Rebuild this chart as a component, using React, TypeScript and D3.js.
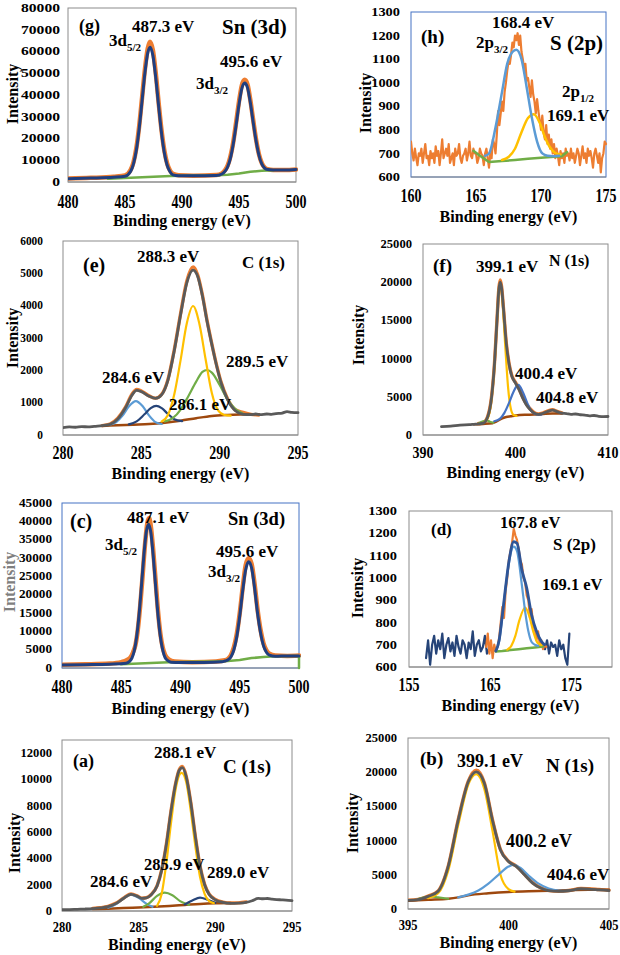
import React from 'react';
import * as d3 from 'd3';

type Pt = [number, number];
const FONT = '"Liberation Serif", "Times New Roman", serif';
const COL = {
  orange: '#ED7D31', gray: '#5A5A5A', yellow: '#FFC000', lblue: '#5B9BD5',
  navy: '#264478', green: '#70AD47', brown: '#9E480E', fit: '#203F80',
  frame: '#8C8C8C', frameBlue: '#4472C4',
};

const seq = (start: number, step: number, vals: number[]): Pt[] =>
  vals.map((v, i) => [start + i * step, v] as Pt);

// ---------- (g) Sn 3d ----------
const gXTicks = [480, 485, 490, 495, 500];
const gYTicks = [0, 10000, 20000, 30000, 40000, 50000, 60000, 70000, 80000];
const gRaw: Pt[] = [[480,1600],[482,1900],[484,2400],[485,3000],[485.5,5600],[485.75,9200],[486,15800],[486.25,26000],[486.5,39000],[486.75,52000],[487,61500],[487.2,64500],[487.45,60500],[487.7,50000],[487.95,36500],[488.2,24000],[488.45,14500],[488.7,8500],[488.95,5300],[489.2,3800],[489.7,3100],[491,2900],[493,3200],[493.5,4000],[493.8,5600],[494,7500],[494.25,11800],[494.5,18500],[494.75,27500],[495,37000],[495.25,44500],[495.5,47000],[495.75,44800],[496,37500],[496.25,28300],[496.5,19500],[496.75,12800],[497,8700],[497.25,6700],[497.5,5900],[498,5500],[499,5500],[500,5800]];
const gFit: Pt[] = [[480,1500],[482,1800],[484,2200],[485,2600],[485.5,4900],[485.75,8400],[486,14800],[486.25,24900],[486.5,37500],[486.75,50300],[487,59500],[487.2,62000],[487.45,58100],[487.7,47900],[487.95,34900],[488.2,22700],[488.45,13500],[488.7,7700],[488.95,4700],[489.2,3300],[489.7,2900],[491,2900],[493,3000],[493.5,3700],[493.8,5100],[494,6900],[494.25,11000],[494.5,17600],[494.75,26300],[495,35600],[495.25,43000],[495.5,45500],[495.75,43300],[496,36300],[496.25,27300],[496.5,18800],[496.75,12300],[497,8300],[497.25,6400],[497.5,5700],[498,5500],[499,5500],[500,5800]];
const gBg: Pt[] = [[483.5,1500],[485,1800],[487,2300],[489,2800],[491,3000],[493,3100],[494,3300],[495,3900],[496,4700],[497,5200],[498,5400]];

// ---------- (h) S 2p ----------
const hXTicks = [160, 165, 170, 175];
const hYTicks = [600, 700, 800, 900, 1000, 1100, 1200, 1300];
const hRawVals = [
  750,700,670,720,680,650,700,690,720,660,700,740,680,690,650,710,680,700,660,730,
  690,710,650,700,760,680,700,720,690,740,660,680,700,650,720,690,700,740,680,660,
  690,700,720,670,700,750,690,680,720,700,
  700,660,680,720,700,690,650,700,720,680,640,700,680,760,740,700,
  780,880,820,870,920,880,960,1000,1050,1090,1080,1120,1170,1150,1200,1180,1210,1160,1200,1130,
  1100,1060,1080,1010,1020,980,940,1010,950,920,870,930,880,840,800,860,790,760,820,740,
  780,720,760,700,740,680,720,690,650,710,680,
  700,660,720,690,700,670,720,680,700,660,690,720,700,650,690,730,680,700,660,720,
  690,710,680,640,700,720,690,660,700,620,680,700,750,740,
];
const hBlue: Pt[] = [[165.7,690],[166.0,700],[166.5,810],[167.0,960],[167.4,1080],[167.8,1130],[168.1,1140],[168.5,1100],[168.9,980],[169.3,850],[169.7,750],[170.1,700],[170.5,690],[171,688],[171.4,690]];
const hYellow: Pt[] = [[167,672],[167.5,685],[168,720],[168.5,790],[169,850],[169.45,866],[169.9,830],[170.3,770],[170.7,725],[171.1,702],[171.5,695]];
const hGreen: Pt[] = [[164.8,711],[165.3,690],[166,664],[167,668],[168,672],[169,677],[170,682],[171,686],[171.6,688],[172,706]];

// ---------- (e) C 1s ----------
const eXTicks = [280, 285, 290, 295];
const eYTicks = [0, 1000, 2000, 3000, 4000, 5000, 6000];
const eEnv: Pt[] = [[280,230],[280.4,250],[280.8,240],[281.2,260],[281.6,250],[282,270],[282.5,290],[283,330],[283.5,500],[284,850],[284.4,1230],[284.7,1380],[285,1340],[285.5,1200],[285.9,1130],[286.3,1250],[286.7,1700],[287.1,2600],[287.5,3700],[287.9,4700],[288.3,5100],[288.6,4900],[288.9,4300],[289.2,3500],[289.5,2800],[289.8,2150],[290.1,1600],[290.5,1100],[291,750],[291.5,640],[292,630],[292.3,650],[292.6,630],[293,650],[293.3,640],[293.6,660],[294,680],[294.3,720],[294.6,700],[295,690]];
const eRaw: Pt[] = [[282.5,290],[283,340],[283.5,520],[284,870],[284.4,1260],[284.7,1410],[285,1360],[285.5,1210],[285.9,1140],[286.3,1260],[286.7,1720],[287.1,2630],[287.5,3740],[287.9,4760],[288.3,5200],[288.6,4950],[288.9,4330],[289.2,3530],[289.5,2820],[289.8,2170],[290.1,1620],[290.5,1120],[291,780],[291.5,700],[292,640],[292.5,620]];
const eC1: Pt[] = [[283,320],[283.4,400],[283.8,600],[284.2,880],[284.65,1050],[285.1,880],[285.5,600],[285.9,400],[286.3,340]];
const eC2: Pt[] = [[284.2,330],[284.7,420],[285.2,640],[285.6,830],[285.95,900],[286.3,830],[286.7,650],[287.1,490],[287.6,430]];
const eC3: Pt[] = [[286.3,420],[286.7,620],[287.1,1250],[287.5,2300],[287.9,3450],[288.3,3990],[288.7,3450],[289.1,2350],[289.5,1300],[289.9,760],[290.3,620],[290.7,600]];
const eC4: Pt[] = [[286.5,420],[287,520],[287.5,780],[288,1200],[288.5,1650],[288.9,1950],[289.2,2010],[289.5,1930],[290,1550],[290.5,1100],[291,800],[291.5,660]];
const eBg: Pt[] = [[282.5,280],[283.5,300],[284.5,320],[285.5,340],[286.5,380],[287.5,440],[288.5,520],[289.5,590],[290.5,620],[291.5,635],[292.5,645]];

// ---------- (f) N 1s ----------
const fXTicks = [390, 400, 410];
const fYTicks = [0, 5000, 10000, 15000, 20000, 25000];
const fEnv: Pt[] = [[392,1100],[393,1150],[394,1300],[395,1350],[395.5,1400],[396,1450],[396.5,1550],[397,2400],[397.4,4800],[397.7,8800],[398,15000],[398.2,19000],[398.35,20000],[398.5,19200],[398.7,16500],[399,12000],[399.3,9300],[399.6,7700],[400,6800],[400.4,5900],[400.8,4800],[401.2,3900],[401.6,3300],[402,2900],[402.5,2700],[403,2850],[403.5,3100],[404,3250],[404.5,3050],[405,2850],[405.5,2800],[406,2700],[406.5,2750],[407,2650],[407.5,2600],[408,2500],[408.5,2550],[409,2450],[409.5,2400],[410,2420]];
const fRaw: Pt[] = [[396,1500],[396.5,1600],[397,2450],[397.4,4900],[397.7,8900],[398,15100],[398.2,19200],[398.35,20300],[398.5,19400],[398.7,16600],[399,12100],[399.3,9400],[399.6,7800],[400,6900],[400.4,6000],[400.8,4900],[401.2,4000],[401.6,3400],[402,2950],[402.5,2750],[403,2900],[403.5,3150],[404,3300],[404.5,3100],[405,2900]];
const fYellow: Pt[] = [[396.5,1600],[397,2200],[397.4,4600],[397.7,8600],[398,15000],[398.3,19800],[398.6,17500],[398.9,11500],[399.2,6200],[399.5,3400],[399.8,2600],[400.1,2500]];
const fBlue: Pt[] = [[397.7,1800],[398.3,2100],[398.8,2900],[399.3,4200],[399.8,5700],[400.3,6550],[400.8,5600],[401.3,4100],[401.8,3000],[402.3,2700],[402.8,2650]];
const fGreen: Pt[] = [[396,1500],[396.5,1800],[396.9,1900],[397.3,1700],[397.6,1600]];
const fBg: Pt[] = [[395.5,1400],[396.5,1450],[397.5,1550],[398,1800],[398.5,2150],[399,2350],[399.5,2450],[400,2550],[401,2650],[402,2680],[403,2750],[404,2800],[405,2800]];

// ---------- (c) Sn 3d ----------
const cXTicks = [480, 485, 490, 495, 500];
const cYTicks = [0, 5000, 10000, 15000, 20000, 25000, 30000, 35000, 40000, 45000];
const cRaw: Pt[] = [[480,900],[482,1000],[484,1200],[485,1600],[485.5,2200],[485.8,3000],[486,4300],[486.2,6300],[486.4,10500],[486.6,17000],[486.8,25000],[487,33500],[487.2,39500],[487.35,40900],[487.5,38600],[487.7,32000],[487.9,23800],[488.1,15600],[488.3,9400],[488.5,5600],[488.7,3600],[489,2400],[489.5,1800],[491,1600],[493,1800],[493.75,2100],[494,2500],[494.25,3500],[494.5,5600],[494.75,9300],[495,15000],[495.25,22000],[495.5,28000],[495.75,29900],[496,28400],[496.25,23000],[496.5,16000],[496.75,10500],[497,6800],[497.25,4800],[497.5,3900],[498,3400],[499,3300],[500,3400]];
const cFit: Pt[] = [[480,800],[482,900],[484,1050],[485.4,1300],[485.7,1800],[485.9,2700],[486.1,4700],[486.3,8500],[486.5,14400],[486.7,22200],[486.9,30400],[487.1,36800],[487.3,39200],[487.5,36900],[487.7,30500],[487.9,22300],[488.1,14500],[488.3,8600],[488.5,4900],[488.7,2800],[488.9,2100],[489.2,1600],[490,1500],[492,1500],[493.5,1700],[493.75,1900],[494,2200],[494.25,3000],[494.5,4900],[494.75,8500],[495,14200],[495.25,21100],[495.5,26800],[495.75,29000],[496,27300],[496.25,21900],[496.5,15000],[496.75,9700],[497,6100],[497.25,4300],[497.5,3500],[498,3200],[499,3300],[500,3300]];
const cBg: Pt[] = [[485,1000],[487,1300],[489,1600],[491,1700],[493,1800],[494,1900],[495,2200],[496,2700],[497,3000],[498,3200],[499.5,3300],[500,3300],[500,0]];

// ---------- (d) S 2p ----------
const dXTicks = [155, 165, 175];
const dYTicks = [600, 700, 800, 900, 1000, 1100, 1200, 1300];
const dNavyLeftVals = [640,720,610,700,740,660,720,680,750,640,700,730,670,710,650,740,690,660,720,700,640,710,680,760,650,700,720,670,690,740,660,680];
const dNavyRightVals = [700,680,720,660,710,690,700,650,720,680,700,640,610,750];
const dRawVals = [690,750,660,720,640,700,670,690,730,800,870,820,940,1000,1080,1120,1160,1220,1190,1170,1130,1080,1060,1000,980,920,900,820,860,780,770,720,760,700,720,680,700,690];
const dEnv: Pt[] = [[165.7,672],[166.1,720],[166.5,834],[166.9,960],[167.3,1072],[167.9,1162],[168.3,1155],[168.9,1036],[169.5,954],[170.1,834],[170.7,760],[171.3,715],[171.7,700]];
const dBlue: Pt[] = [[165.7,672],[166.1,715],[166.5,830],[166.9,955],[167.3,1065],[167.9,1140],[168.3,1120],[168.9,968],[169.3,850],[169.7,760],[170.1,712],[170.5,700],[170.9,695]];
const dYellow: Pt[] = [[167.1,678],[167.6,695],[168.1,740],[168.6,810],[169.3,867],[169.8,830],[170.3,760],[170.8,710],[171.3,698]];
const dGreen: Pt[] = [[165.7,670],[166.5,672],[167.5,676],[168.5,680],[169.5,684],[170.5,688],[171.5,692]];

// ---------- (a) C 1s ----------
const aXTicks = [280, 285, 290, 295];
const aYTicks = [0, 2000, 4000, 6000, 8000, 10000, 12000];
const aEnv: Pt[] = [[280,100],[280.5,110],[281,130],[281.5,150],[282,180],[282.5,230],[283,330],[283.5,560],[284,950],[284.5,1270],[284.9,1130],[285.2,960],[285.5,1000],[285.8,1220],[286.2,1900],[286.5,3100],[286.8,5000],[287.1,7500],[287.4,9600],[287.65,10700],[287.85,10900],[288.1,10200],[288.4,8200],[288.7,5600],[289,3400],[289.3,2000],[289.6,1250],[290,850],[290.5,650],[291,580],[291.5,600],[292,660],[292.4,780],[292.8,960],[293.1,930],[293.4,950],[293.7,900],[294,870],[294.3,850],[294.6,830],[295,790]];
const aRaw: Pt[] = [[282,200],[282.5,250],[283,350],[283.5,580],[284,970],[284.5,1290],[284.9,1150],[285.2,980],[285.5,1020],[285.8,1240],[286.2,1920],[286.5,3130],[286.8,5030],[287.1,7530],[287.4,9650],[287.65,10760],[287.85,10980],[288.1,10260],[288.4,8250],[288.7,5650],[289,3430],[289.3,2030],[289.6,1280],[290,880],[290.5,680],[291,610],[291.5,620],[292,680]];
const aC1: Pt[] = [[283,250],[283.5,500],[284,950],[284.5,1250],[285,1000],[285.5,560],[285.9,320]];
const aC2: Pt[] = [[285.3,320],[285.7,600],[286.2,1150],[286.7,1400],[287.2,1200],[287.7,750],[288.3,460]];
const aC3: Pt[] = [[286.2,400],[286.5,1300],[286.8,3600],[287.1,6600],[287.4,9200],[287.8,10500],[288.1,9800],[288.4,7600],[288.7,4900],[289,2600],[289.3,1300],[289.6,750],[289.9,600]];
const aC4: Pt[] = [[288,500],[288.5,800],[289,1020],[289.5,850],[290,620]];
const aBg: Pt[] = [[282,150],[283,180],[284,220],[285,270],[286,320],[287,380],[288,460],[289,540],[290,590],[291,610]];

// ---------- (b) N 1s ----------
const bXTicks = [395, 400, 405];
const bYTicks = [0, 5000, 10000, 15000, 20000, 25000];
const bEnv: Pt[] = [[395,1260],[395.5,1360],[396,1840],[396.5,2600],[397,6200],[397.5,13000],[398,18600],[398.4,20050],[398.8,18350],[399.2,13000],[399.6,8640],[400,6940],[400.4,6200],[400.8,5000],[401.2,3790],[401.6,3060],[402,2670],[402.5,2570],[403,2670],[403.6,2960],[404,2900],[404.5,2800],[405,2700]];
const bRaw: Pt[] = [[395,1300],[395.5,1400],[396,1880],[396.5,2640],[397,6250],[397.5,13100],[398,18700],[398.4,20300],[398.8,18450],[399.2,13100],[399.6,8700],[400,7000],[400.4,6250],[400.8,5050],[401.2,3850],[401.6,3100],[402,2700],[402.5,2600],[403,2700],[403.6,3000],[404,2950],[404.5,2850],[405,2750]];
const bYellow: Pt[] = [[396,1600],[396.5,2300],[397,5600],[397.5,12300],[398,18200],[398.4,19700],[398.8,17500],[399.2,11500],[399.6,5000],[400,2900],[400.3,2550]];
const bBlue: Pt[] = [[397.5,1700],[398,2100],[398.5,2700],[399,3700],[399.5,5000],[400,6200],[400.25,6460],[400.6,6000],[401,4900],[401.5,3700],[402,3000],[402.5,2700],[403,2650]];
const bGreen: Pt[] = [[395.5,1450],[395.8,1700],[396.1,1840],[396.5,1700],[397,1500]];
const bBg: Pt[] = [[395,1200],[396,1350],[397,1500],[397.5,1700],[398,2000],[399,2300],[400,2500],[401,2600],[402,2650],[403,2750],[404,2800],[405,2800]];

type Series = { pts: Pt[]; color: string; w: number; smooth?: boolean };
type Ann = { t: string; sub?: string; x: number; y: number; s: number };
type PanelCfg = {
  id: string; x0: number; x1: number; y0: number; y1: number;
  xDom: [number, number]; yDom: [number, number];
  xTicks: number[]; yTicks: number[];
  yTickRight: number; ySx: number; yFs: number;
  xTickY: number; xFs: number; xSy: number;
  xTitleY: number; xTitleFs: number; yTitleX: number; yTitleY: number; yTitleColor?: string;
  frame: string; series: Series[]; ann: Ann[];
};

const panels: PanelCfg[] = [
  {
    id: 'g', x0: 68, x1: 296, y0: 8, y1: 182, xDom: [480, 500], yDom: [0, 80000],
    xTicks: gXTicks, yTicks: gYTicks, yTickRight: 60, ySx: 1.3, yFs: 12,
    xTickY: 202, xFs: 14, xSy: 1.3, xTitleY: 220, xTitleFs: 16, yTitleX: 12, yTitleY: 94,
    frame: COL.frame,
    series: [
      { pts: gRaw, color: COL.orange, w: 4.5, smooth: true },
      { pts: gBg, color: COL.green, w: 2.5 },
      { pts: gFit, color: COL.fit, w: 3, smooth: true },
    ],
    ann: [
      { t: '(g)', x: 79, y: 32, s: 18 }, { t: '487.3 eV', x: 132, y: 32, s: 17 },
      { t: '3d', sub: '5/2', x: 109, y: 46, s: 17 }, { t: 'Sn (3d)', x: 222, y: 34, s: 21 },
      { t: '495.6 eV', x: 220, y: 67, s: 17 }, { t: '3d', sub: '3/2', x: 196, y: 89, s: 17 },
    ],
  },
  {
    id: 'h', x0: 411, x1: 606, y0: 12, y1: 177, xDom: [160, 175], yDom: [600, 1300],
    xTicks: hXTicks, yTicks: hYTicks, yTickRight: 400, ySx: 1.2, yFs: 12,
    xTickY: 196, xFs: 14, xSy: 1.3, xTitleY: 216, xTitleFs: 16, yTitleX: 365, yTitleY: 103,
    frame: COL.frameBlue,
    series: [
      { pts: seq(160, 0.1, hRawVals), color: COL.orange, w: 2.2 },
      { pts: hGreen, color: COL.green, w: 2.5 },
      { pts: hYellow, color: COL.yellow, w: 2.5, smooth: true },
      { pts: hBlue, color: COL.lblue, w: 2.5, smooth: true },
    ],
    ann: [
      { t: '(h)', x: 421, y: 43, s: 19 }, { t: '168.4 eV', x: 492, y: 28, s: 17 },
      { t: '2p', sub: '3/2', x: 476, y: 48, s: 17 }, { t: 'S (2p)', x: 550, y: 50, s: 21 },
      { t: '2p', sub: '1/2', x: 562, y: 97, s: 17 }, { t: '169.1 eV', x: 547, y: 121, s: 17 },
    ],
  },
  {
    id: 'e', x0: 63, x1: 298, y0: 241, y1: 435, xDom: [280, 295], yDom: [0, 6000],
    xTicks: eXTicks, yTicks: eYTicks, yTickRight: 43, ySx: 0.95, yFs: 12,
    xTickY: 453, xFs: 14, xSy: 1.3, xTitleY: 473, xTitleFs: 16, yTitleX: 12, yTitleY: 338,
    frame: COL.frame,
    series: [
      { pts: eRaw, color: COL.orange, w: 3.4, smooth: true },
      { pts: eBg, color: COL.brown, w: 2.5, smooth: true },
      { pts: eC1, color: COL.lblue, w: 2.2, smooth: true },
      { pts: eC2, color: COL.navy, w: 2.2, smooth: true },
      { pts: eC4, color: COL.green, w: 2.2, smooth: true },
      { pts: eC3, color: COL.yellow, w: 2.2, smooth: true },
      { pts: eEnv, color: COL.gray, w: 2.8, smooth: true },
    ],
    ann: [
      { t: '(e)', x: 83, y: 272, s: 20 }, { t: '288.3 eV', x: 137, y: 262, s: 17 },
      { t: 'C (1s)', x: 242, y: 268, s: 17 }, { t: '289.5 eV', x: 226, y: 367, s: 17 },
      { t: '284.6 eV', x: 102, y: 383, s: 17 }, { t: '286.1 eV', x: 169, y: 410, s: 17 },
    ],
  },
  {
    id: 'f', x0: 423, x1: 608, y0: 244, y1: 435, xDom: [390, 410], yDom: [0, 25000],
    xTicks: fXTicks, yTicks: fYTicks, yTickRight: 412, ySx: 1.05, yFs: 12,
    xTickY: 452, xFs: 14, xSy: 1.2, xTitleY: 472, xTitleFs: 16, yTitleX: 358, yTitleY: 335,
    frame: COL.frame,
    series: [
      { pts: fRaw, color: COL.orange, w: 3.4, smooth: true },
      { pts: fBg, color: COL.brown, w: 2.5, smooth: true },
      { pts: fGreen, color: COL.green, w: 2.2, smooth: true },
      { pts: fYellow, color: COL.yellow, w: 2.2, smooth: true },
      { pts: fBlue, color: '#4472C4', w: 2.2, smooth: true },
      { pts: fEnv, color: COL.gray, w: 2.8, smooth: true },
    ],
    ann: [
      { t: '(f)', x: 433, y: 272, s: 19 }, { t: '399.1 eV', x: 476, y: 272, s: 17 },
      { t: 'N (1s)', x: 549, y: 266, s: 16 }, { t: '400.4 eV', x: 515, y: 379, s: 17 },
      { t: '404.8 eV', x: 536, y: 403, s: 17 },
    ],
  },
  {
    id: 'c', x0: 62, x1: 299, y0: 503, y1: 668, xDom: [480, 500], yDom: [0, 45000],
    xTicks: cXTicks, yTicks: cYTicks, yTickRight: 52, ySx: 1.1, yFs: 12,
    xTickY: 687, xFs: 14, xSy: 1.3, xTitleY: 708, xTitleFs: 16, yTitleX: 9, yTitleY: 582,
    yTitleColor: '#7F7F7F', frame: COL.frameBlue,
    series: [
      { pts: cRaw, color: COL.orange, w: 4.5, smooth: true },
      { pts: cBg, color: COL.green, w: 2.5 },
      { pts: cFit, color: COL.fit, w: 3, smooth: true },
    ],
    ann: [
      { t: '(c)', x: 70, y: 528, s: 20 }, { t: '487.1 eV', x: 127, y: 523, s: 17 },
      { t: '3d', sub: '5/2', x: 105, y: 550, s: 17 }, { t: 'Sn (3d)', x: 228, y: 525, s: 18.5 },
      { t: '495.6 eV', x: 216, y: 557, s: 17 }, { t: '3d', sub: '3/2', x: 208, y: 577, s: 17 },
    ],
  },
  {
    id: 'd', x0: 409, x1: 612, y0: 511, y1: 667, xDom: [155, 180], yDom: [600, 1300],
    xTicks: dXTicks, yTicks: dYTicks, yTickRight: 397, ySx: 1.2, yFs: 12,
    xTickY: 685, xFs: 14, xSy: 1.3, xTitleY: 705, xTitleFs: 16, yTitleX: 357, yTitleY: 588,
    frame: COL.frame,
    series: [
      { pts: seq(157.1, 0.25, dNavyLeftVals), color: COL.navy, w: 2.2 },
      { pts: seq(171.5, 0.25, dNavyRightVals), color: COL.navy, w: 2.2 },
      { pts: seq(164.5, 0.2, dRawVals), color: COL.orange, w: 2.2 },
      { pts: dGreen, color: COL.green, w: 2.5 },
      { pts: dYellow, color: COL.yellow, w: 2.2, smooth: true },
      { pts: dBlue, color: COL.lblue, w: 2.2, smooth: true },
      { pts: dEnv, color: '#2F5597', w: 2.8, smooth: true },
    ],
    ann: [
      { t: '(d)', x: 431, y: 535, s: 17 }, { t: '167.8 eV', x: 500, y: 528, s: 16.5 },
      { t: 'S (2p)', x: 553, y: 550, s: 17 }, { t: '169.1 eV', x: 542, y: 590, s: 16.5 },
    ],
  },
  {
    id: 'a', x0: 62, x1: 292, y0: 740, y1: 911, xDom: [280, 295], yDom: [0, 13000],
    xTicks: aXTicks, yTicks: aYTicks, yTickRight: 52, ySx: 1.05, yFs: 12,
    xTickY: 927, xFs: 12.5, xSy: 1.2, xTitleY: 944, xTitleFs: 16, yTitleX: 14, yTitleY: 843,
    frame: COL.frame,
    series: [
      { pts: aRaw, color: COL.orange, w: 3.4, smooth: true },
      { pts: aBg, color: COL.brown, w: 2.5, smooth: true },
      { pts: aC1, color: COL.lblue, w: 2.2, smooth: true },
      { pts: aC2, color: COL.green, w: 2.2, smooth: true },
      { pts: aC4, color: COL.navy, w: 2.2, smooth: true },
      { pts: aC3, color: COL.yellow, w: 2.2, smooth: true },
      { pts: aEnv, color: COL.gray, w: 2.8, smooth: true },
    ],
    ann: [
      { t: '(a)', x: 73, y: 767, s: 18 }, { t: '288.1 eV', x: 154, y: 758, s: 17 },
      { t: 'C (1s)', x: 223, y: 773, s: 19 }, { t: '285.9 eV', x: 144, y: 870, s: 16.5 },
      { t: '289.0 eV', x: 207, y: 878, s: 17 }, { t: '284.6 eV', x: 90, y: 887, s: 17 },
    ],
  },
  {
    id: 'b', x0: 408, x1: 609, y0: 738, y1: 909, xDom: [395, 405], yDom: [0, 25000],
    xTicks: bXTicks, yTicks: bYTicks, yTickRight: 397, ySx: 1.05, yFs: 12,
    xTickY: 925, xFs: 12.5, xSy: 1.2, xTitleY: 942, xTitleFs: 16, yTitleX: 352, yTitleY: 823,
    frame: COL.frame,
    series: [
      { pts: bRaw, color: COL.orange, w: 3.4, smooth: true },
      { pts: bBg, color: COL.brown, w: 2.5, smooth: true },
      { pts: bGreen, color: COL.green, w: 2.2, smooth: true },
      { pts: bYellow, color: COL.yellow, w: 2.2, smooth: true },
      { pts: bBlue, color: COL.lblue, w: 2.2, smooth: true },
      { pts: bEnv, color: COL.gray, w: 2.8, smooth: true },
    ],
    ann: [
      { t: '(b)', x: 420, y: 765, s: 19 }, { t: '399.1 eV', x: 457, y: 767, s: 18 },
      { t: 'N (1s)', x: 546, y: 772, s: 19 }, { t: '400.2 eV', x: 506, y: 847, s: 18 },
      { t: '404.6 eV', x: 547, y: 880, s: 17 },
    ],
  },
];

function Panel({ p }: { p: PanelCfg }) {
  const x = d3.scaleLinear().domain(p.xDom).range([p.x0, p.x1]);
  const y = d3.scaleLinear().domain(p.yDom).range([p.y1, p.y0]);
  const clipId = `clip-${p.id}`;
  return (
    <g>
      <defs>
        <clipPath id={clipId}>
          <rect x={p.x0} y={p.y0 - 2} width={p.x1 - p.x0 + 2} height={p.y1 - p.y0 + 4} />
        </clipPath>
      </defs>
      <rect x={p.x0} y={p.y0} width={p.x1 - p.x0} height={p.y1 - p.y0} fill="none" stroke={p.frame} strokeWidth={1} />
      <line x1={p.x0} x2={p.x1} y1={p.y1} y2={p.y1} stroke="#8C8C8C" strokeWidth={1} />
      <g clipPath={`url(#${clipId})`}>
        {p.series.map((s, i) => {
          const gen = d3.line<Pt>().x(d => x(d[0])).y(d => y(d[1]))
            .curve(s.smooth ? d3.curveMonotoneX : d3.curveLinear);
          return <path key={i} d={gen(s.pts) || ''} fill="none" stroke={s.color} strokeWidth={s.w}
            strokeLinejoin="round" strokeLinecap="round" />;
        })}
      </g>
      {p.yTicks.map(t => (
        <text key={`y${t}`} transform={`translate(${p.yTickRight},${y(t)}) scale(${p.ySx},1)`}
          textAnchor="end" dominantBaseline="central" fontSize={p.yFs} fontWeight="bold" fontFamily={FONT}>{t}</text>
      ))}
      {p.xTicks.map(t => (
        <text key={`x${t}`} transform={`translate(${x(t)},${p.xTickY}) scale(1,${p.xSy})`}
          textAnchor="middle" dominantBaseline="central" fontSize={p.xFs} fontWeight="bold" fontFamily={FONT}>{t}</text>
      ))}
      <text x={(p.x0 + p.x1) / 2} y={p.xTitleY} textAnchor="middle" dominantBaseline="central"
        fontSize={p.xTitleFs} fontWeight="bold" fontFamily={FONT}>Binding energy (eV)</text>
      <text transform={`translate(${p.yTitleX},${p.yTitleY}) rotate(-90)`} textAnchor="middle" dominantBaseline="central"
        fontSize={16} fontWeight="bold" fontFamily={FONT} fill={p.yTitleColor || '#000'}>Intensity</text>
      {p.ann.map((a, i) => (
        <text key={`a${i}`} x={a.x} y={a.y} fontSize={a.s} fontWeight="bold" fontFamily={FONT}>
          {a.t}
          {a.sub && <tspan fontSize={a.s * 0.65} dy={a.s * 0.28}>{a.sub}</tspan>}
        </text>
      ))}
    </g>
  );
}

export default function App() {
  return (
    <svg width={620} height={955} viewBox="0 0 620 955"
      style={{ position: 'absolute', left: 0, top: 0, background: '#fff' }}>
      <rect x={0} y={0} width={620} height={955} fill="#fff" />
      {panels.map(p => <Panel key={p.id} p={p} />)}
    </svg>
  );
}
